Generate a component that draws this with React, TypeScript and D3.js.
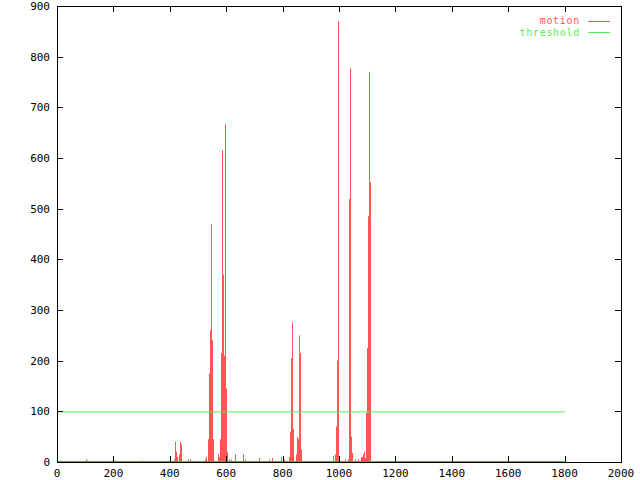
import React from "react";
import { scaleLinear, line } from "d3";

// motion per frame (only frames with visible motion are listed, the rest are 0)
const motionFrames = [
  0, 10, 103, 106, 195, 200, 205, 301, 415, 418, 422, 425, 433, 436, 440, 465, 470,
  525, 528, 535, 539, 543, 546, 550, 553, 571, 574, 578, 582, 585, 589, 592, 596, 599, 603,
  610, 617, 631, 660, 667, 716, 752, 762, 794, 805, 823, 826, 830, 833, 837,
  847, 851, 854, 858, 862, 865, 979, 986, 989, 993, 996, 1000, 1021, 1032, 1035, 1039,
  1042, 1046, 1057, 1067, 1078, 1081, 1085, 1089, 1092, 1096, 1099, 1103, 1106, 1110, 1800,
];
const motionValues = [
  0, 3, 5, 3, 3, 3, 3, 3, 5, 40, 20, 10, 15, 40, 35, 5, 5,
  5, 10, 45, 175, 260, 470, 240, 45, 15, 10, 45, 215, 615, 370, 210, 667, 145, 20,
  5, 5, 15, 15, 5, 8, 5, 8, 10, 5, 10, 60, 205, 275, 65,
  15, 50, 45, 250, 215, 25, 12, 15, 70, 200, 870, 10, 5, 5, 519, 777,
  50, 18, 5, 5, 10, 10, 15, 20, 8, 97, 225, 485, 770, 552, 0,
];

const thresholdFrames = [0, 1800];
const thresholdValues = [100, 100];

const xTicks = [0, 200, 400, 600, 800, 1000, 1200, 1400, 1600, 1800, 2000];
const yTicks = [0, 100, 200, 300, 400, 500, 600, 700, 800, 900];

const RED = "#ff5555";
const GREEN = "#55ee55";

const App = () => {
  const left = 57, right = 621, top = 6, bottom = 462;
  const x = scaleLinear().domain([0, 2000]).range([left, right]);
  const y = scaleLinear().domain([0, 900]).range([bottom, top]);

  const pts = thresholdFrames.map((f, i) => [f, thresholdValues[i]] as [number, number]);
  const thresholdPath = line<[number, number]>()
    .x((d) => x(d[0]))
    .y((d) => y(d[1]))(pts);

  const font = { fontFamily: "DejaVu Sans Mono", fontSize: 11 };
  const legendFont = { fontFamily: "DejaVu Sans Mono", fontSize: 10, letterSpacing: 0.7 };

  return (
    <svg
      width={640}
      height={480}
      style={{ position: "absolute", left: 0, top: 0, background: "#fff" }}
    >
      {/* baseline of the motion series */}
      <line
        x1={x(motionFrames[0])}
        x2={x(motionFrames[motionFrames.length - 1])}
        y1={y(0) - 0.5}
        y2={y(0) - 0.5}
        stroke={RED}
        strokeWidth={1}
      />
      {/* impulses */}
      {motionFrames.map((f, i) => (
        <line
          key={i}
          x1={Math.round(x(f)) + 0.5}
          x2={Math.round(x(f)) + 0.5}
          y1={y(0)}
          y2={y(motionValues[i])}
          stroke={RED}
          strokeWidth={1}
        />
      ))}
      <path d={thresholdPath ?? ""} stroke={GREEN} fill="none" strokeWidth={1} transform="translate(0,0.5)" />

      {/* border */}
      <rect x={left + 0.5} y={top + 0.5} width={right - left} height={bottom - top} fill="none" stroke="#000" />

      {/* ticks */}
      {xTicks.map((t) => (
        <g key={"x" + t}>
          <line x1={Math.round(x(t)) + 0.5} x2={Math.round(x(t)) + 0.5} y1={bottom} y2={bottom - 6} stroke="#000" />
          <line x1={Math.round(x(t)) + 0.5} x2={Math.round(x(t)) + 0.5} y1={top} y2={top + 6} stroke="#000" />
          <text x={x(t)} y={bottom + 15} textAnchor="middle" {...font}>
            {t}
          </text>
        </g>
      ))}
      {yTicks.map((t) => (
        <g key={"y" + t}>
          <line x1={left} x2={left + 6} y1={Math.round(y(t)) + 0.5} y2={Math.round(y(t)) + 0.5} stroke="#000" />
          <line x1={right} x2={right - 6} y1={Math.round(y(t)) + 0.5} y2={Math.round(y(t)) + 0.5} stroke="#000" />
          <text x={left - 7} y={y(t) + 4} textAnchor="end" {...font}>
            {t}
          </text>
        </g>
      ))}

      {/* legend */}
      <text x={580} y={24} textAnchor="end" fill={RED} {...legendFont}>
        motion
      </text>
      <line x1={588} x2={610} y1={21.5} y2={21.5} stroke={RED} />
      <text x={580} y={36} textAnchor="end" fill={GREEN} {...legendFont}>
        threshold
      </text>
      <line x1={588} x2={610} y1={32.5} y2={32.5} stroke={GREEN} />
    </svg>
  );
};

export default App;
